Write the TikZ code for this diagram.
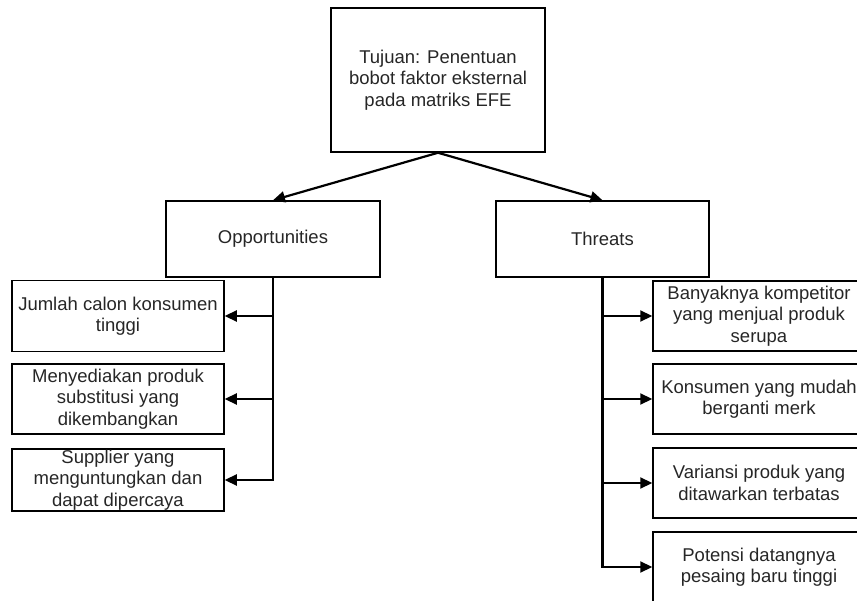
\documentclass[tikz,border=0pt]{standalone}
\usepackage{fontspec}
\setmainfont{Liberation Sans}
\usetikzlibrary{arrows.meta, positioning}

\begin{document}
\begin{tikzpicture}[x=1pt, y=-1pt, >={Triangle[length=12pt,width=11pt]},
	line cap=butt, line join=miter,
	font=\fontsize{18.5}{21.5}\selectfont,
	box/.style={draw, line width=1.5pt, align=center, inner sep=0pt, text=black!85},
	arr/.style={->, line width=2.2pt}]
\useasboundingbox (0,0) rectangle (857,601);
\clip (0,0) rectangle (857,601);
%========================
% Top: goal
%========================
\node[box, minimum width=214, minimum height=144] (goal) at (438,80)
	{Tujuan: Penentuan\\bobot faktor eksternal\\pada matriks EFE};

% criteria
\node[box, minimum width=214, minimum height=76] (opp) at (273,239) {Opportunities};
\node[box, minimum width=213, minimum height=76] (thr) at (602.5,239) {Threats};

\draw[arr] (goal.south) -- (opp.north);
\draw[arr] (goal.south) -- (thr.north);

%========================
% Left: opportunities
%========================
\node[box, minimum width=212, minimum height=71] (o1) at (118,316)
	{Jumlah calon konsumen\\tinggi};
\node[box, minimum width=212, minimum height=70] (o2) at (118,399)
	{Menyediakan produk\\substitusi yang\\dikembangkan};
\node[box, minimum width=212, minimum height=62] (o3) at (118,480)
	{Supplier yang\\menguntungkan dan\\dapat dipercaya};

\draw[arr] (opp.south) |- (o3.east);
\draw[arr] (opp.south |- o1.east) -- (o1.east);
\draw[arr] (opp.south |- o2.east) -- (o2.east);

%========================
% Right: threats
%========================
\node[box, minimum width=212, minimum height=70] (t1) at (759,316)
	{Banyaknya kompetitor\\yang menjual produk\\serupa};
\node[box, minimum width=212, minimum height=70] (t2) at (759,399)
	{Konsumen yang mudah\\berganti merk};
\node[box, minimum width=212, minimum height=70] (t3) at (759,483)
	{Variansi produk yang\\ditawarkan terbatas};
\node[box, minimum width=212, minimum height=70] (t4) at (759,567)
	{Potensi datangnya\\pesaing baru tinggi};

\draw[arr] (thr.south) |- (t4.west);
\draw[arr] (thr.south |- t1.west) -- (t1.west);
\draw[arr] (thr.south |- t2.west) -- (t2.west);
\draw[arr] (thr.south |- t3.west) -- (t3.west);
\end{tikzpicture}
\end{document}
